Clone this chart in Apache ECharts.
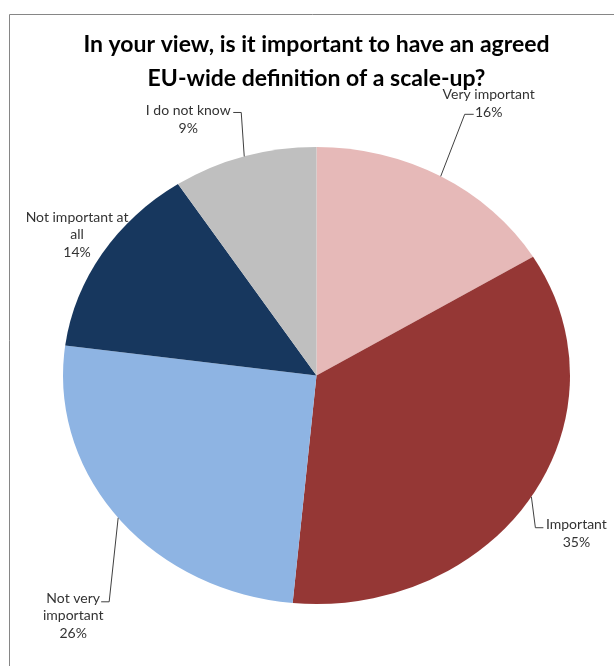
<!DOCTYPE html>
<html>
<head>
<meta charset="utf-8">
<script src="https://cdn.jsdelivr.net/npm/echarts@6/dist/echarts.min.js"></script>
<style>
html,body{margin:0;padding:0;background:#fff;}
#chart{width:614px;height:666px;}
</style>
</head>
<body>
<div id="chart"></div>
<script>
// ---- data ----
const categories = ['Very important', 'Important', 'Not very important', 'Not important at all', 'I do not know'];
const values = [16.3, 35.2, 25.6, 13.7, 9.2];
const labelNames = ['Very important', 'Important', 'Not very\nimportant', 'Not important at\nall', 'I do not know'];
const titleLines = ['In your view, is it important to have an agreed', 'EU-wide definition of a scale-up?'];

// ---- styles / layout ----
const colors = ['#E6B9B8', '#953735', '#8EB4E3', '#17375E', '#BFBFBF'];
// label layout relative to slice edge anchor
const labelLayout = [
  {text: [48, -73], leader: [[24, -62], [33, -62]]},
  {text: [45, 37], leader: [[4, 31], [12, 31]]},
  {text: [-45, 98], leader: [[-9, 84], [-17, 84]]},
  {text: [-25, -19], leader: null},
  {text: [-56, -37], leader: [[-3, -44], [-11, -44]]}
];

const total = values.reduce((a, b) => a + b, 0);
const chart = echarts.init(document.getElementById('chart'), null, {renderer: 'canvas'});

function renderItem(params, api) {
  const i = params.dataIndex;
  let cum = 0;
  for (let j = 0; j < i; j++) cum += values[j];
  const v = api.value(0);
  const a0 = -Math.PI / 2 + cum / total * Math.PI * 2;
  const a1 = a0 + v / total * Math.PI * 2;
  const am = (a0 + a1) / 2;
  const cx = 316.5, cy = 375.5, ry = 228.5, rx = 253.5;
  const ex = cx + rx * Math.cos(am), ey = cy + ry * Math.sin(am);
  const lay = labelLayout[i];
  const children = [{
    type: 'sector',
    x: cx, y: cy, scaleX: rx / ry, scaleY: 1,
    shape: {cx: 0, cy: 0, r: ry, r0: 0, startAngle: a0, endAngle: a1, clockwise: true},
    style: {fill: colors[i]}
  }];
  if (lay.leader) {
    const pts = [[ex, ey]].concat(lay.leader.map(p => [ex + p[0], ey + p[1]]));
    children.push({
      type: 'polyline', shape: {points: pts},
      style: {stroke: '#404040', lineWidth: 1, fill: null}
    });
  }
  const pct = Math.round(v / total * 100) + '%';
  children.push({
    type: 'text', x: ex + lay.text[0], y: ey + lay.text[1],
    style: {
      text: labelNames[i] + '\n' + pct, fill: '#333333',
      font: '14px Lato', align: 'center', verticalAlign: 'middle', lineHeight: 17.5
    }
  });
  return {type: 'group', children: children};
}

chart.setOption({
  animation: false,
  backgroundColor: '#ffffff',
  graphic: [{
    type: 'rect', left: 7, top: 12,
    shape: {width: 700, height: 700},
    style: {fill: null, stroke: '#868686', lineWidth: 1}
  }, {
    type: 'text', x: 316.5, y: 28,
    style: {
      text: titleLines.join('\n'), fill: '#000000',
      font: 'bold 23px Lato', align: 'center', verticalAlign: 'top', lineHeight: 34
    }
  }],
  series: [{
    type: 'custom',
    coordinateSystem: 'none',
    renderItem: renderItem,
    data: values.map((v, i) => ({name: categories[i], value: [v]}))
  }]
});
</script>
</body>
</html>
